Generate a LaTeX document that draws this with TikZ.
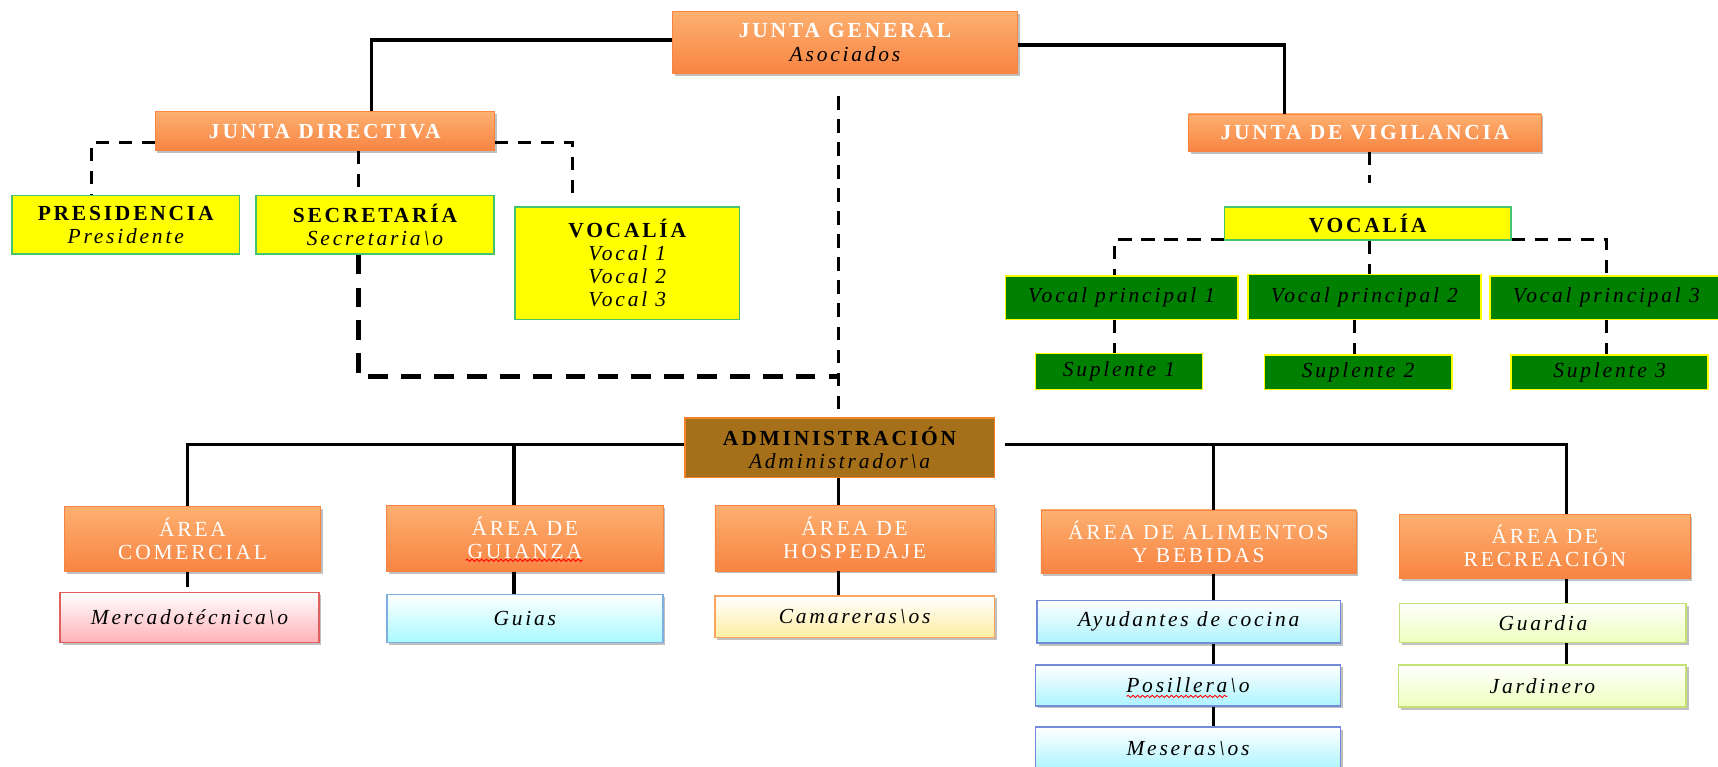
\documentclass[tikz,border=0pt]{standalone}
\usepackage{fontspec}
\setmainfont{Liberation Serif}
\newfontfamily\spaced[LetterSpace=13]{Liberation Serif}
\usetikzlibrary{shadows,calc,decorations.pathmorphing}
\definecolor{orT}{RGB}{253,176,112}
\definecolor{orB}{RGB}{248,132,66}
\definecolor{ylF}{RGB}{255,255,0}
\definecolor{ylD}{RGB}{70,195,110}
\definecolor{grF}{RGB}{0,128,0}
\definecolor{admF}{RGB}{166,112,26}
\definecolor{admD}{RGB}{245,130,40}
\definecolor{pinkB}{RGB}{255,178,184}
\definecolor{pinkD}{RGB}{225,95,95}
\definecolor{cyanB}{RGB}{168,250,255}
\definecolor{cyanD}{RGB}{125,175,225}
\definecolor{creamB}{RGB}{255,238,160}
\definecolor{creamD}{RGB}{250,165,95}
\definecolor{ayuB}{RGB}{172,244,255}
\definecolor{ayuD}{RGB}{115,140,215}
\definecolor{limeB}{RGB}{238,255,188}
\definecolor{limeD}{RGB}{195,225,120}
\begin{document}
\begin{tikzpicture}[x=0.5pt,y=-0.5pt,
  every node/.style={rectangle, inner sep=0pt, align=center,
    font=\fontsize{9.8}{10.5}\selectfont\spaced},
  shad/.style={drop shadow={shadow xshift=1.1pt, shadow yshift=-1.1pt, opacity=0.35, fill=black!70}},
  orbox/.style={shad, top color=orT, bottom color=orB, draw=orB, line width=0.3pt, text=white},
  hdrbox/.style={orbox, font=\fontsize{9.8}{10.8}\selectfont\spaced\bfseries},
  ylbox/.style={fill=ylF, draw=ylD, line width=0.7pt, text=black},
  grbox/.style={fill=grF, draw=ylF, line width=0.7pt, text=black, font=\fontsize{9.8}{10.5}\selectfont\spaced\itshape},
  admbox/.style={fill=admF, draw=admD, line width=0.7pt, text=black},
  subbox/.style={shad, line width=0.7pt, top color=white, font=\fontsize{9.8}{10.5}\selectfont\spaced\itshape, text=black},
  subpink/.style={subbox, middle color=white!80!pinkB, bottom color=pinkB, draw=pinkD},
  subcyan/.style={subbox, middle color=white!80!cyanB, bottom color=cyanB, draw=cyanD},
  subcream/.style={subbox, middle color=white!80!creamB, bottom color=creamB, draw=creamD},
  subayu/.style={subbox, middle color=white!80!ayuB, bottom color=ayuB, draw=ayuD},
  sublime/.style={subbox, middle color=white!80!limeB, bottom color=limeB, draw=limeD},
  conn/.style={line width=1.5pt, black},
  dconn/.style={line width=1.4pt, black, dash pattern=on 6pt off 4.5pt},
  dconnthick/.style={line width=2.2pt, black, dash pattern=on 9pt off 6pt},
  spell/.style={red, line width=0.4pt, decorate, decoration={snake, segment length=2.2pt, amplitude=0.5pt}}
]
\useasboundingbox (0,0) rectangle (1568,700);
\clip (0,0) rectangle (1568,700);
\fill[white] (0,0) rectangle (1568,700);

% ---------- top level ----------
\node[hdrbox, minimum width=157.25pt, minimum height=28.2pt] (jg) at (771.25,38.8)
  {JUNTA GENERAL\\{\mdseries\itshape\color{black}Asociados}};
\node[hdrbox, minimum width=155pt, minimum height=17.75pt] (jd) at (296.5,119.75) {JUNTA DIRECTIVA};
\node[hdrbox, minimum width=160.75pt, minimum height=17.2pt] (jv) at (1245.75,121.2) {JUNTA DE VIGILANCIA};

% ---------- junta directiva ----------
\node[ylbox, minimum width=103.75pt, minimum height=26.6pt] (pres) at (114.75,205.2)
  {\bfseries PRESIDENCIA\\\itshape Presidente};
\node[ylbox, minimum width=108.75pt, minimum height=26.6pt] (sec) at (342.25,205.2)
  {\bfseries SECRETARÍA\\\itshape Secretaria\textbackslash o};
\node[ylbox, minimum width=102.5pt, minimum height=51.25pt] (vocl) at (572.5,240.25)
  {\bfseries VOCALÍA\\\itshape Vocal 1\\\itshape Vocal 2\\\itshape Vocal 3};

% ---------- junta de vigilancia ----------
\node[ylbox, minimum width=130.75pt, minimum height=15pt] (vocr) at (1248.25,204) {\bfseries VOCALÍA};
\node[grbox, minimum width=106.25pt, minimum height=19.75pt] (vp1) at (1023.75,271.75) {Vocal principal 1};
\node[grbox, minimum width=106.25pt, minimum height=20.55pt] (vp2) at (1245.25,270.95) {Vocal principal 2};
\node[grbox, minimum width=106.25pt, minimum height=19.75pt] (vp3) at (1466,271.75) {Vocal principal 3};
\node[grbox, minimum width=76.25pt, minimum height=16.4pt] (s1) at (1021.25,338.9) {Suplente 1};
\node[grbox, minimum width=85.5pt, minimum height=15.65pt] (s2) at (1239.5,339.65) {Suplente 2};
\node[grbox, minimum width=90pt, minimum height=15.65pt] (s3) at (1469,339.65) {Suplente 3};

% ---------- administracion ----------
\node[admbox, minimum width=141.25pt, minimum height=26.95pt] (adm) at (766.25,408.65)
  {\bfseries ADMINISTRACIÓN\\\itshape Administrador\textbackslash a};

\node[orbox, minimum width=116.75pt, minimum height=29.65pt] (ac) at (175.75,492.05) {ÁREA\\COMERCIAL};
\node[orbox, minimum width=126pt, minimum height=30.35pt] (ag) at (479,491.35) {ÁREA DE\\GUIANZA};
\node[orbox, minimum width=127.5pt, minimum height=30pt] (ah) at (780,491) {ÁREA DE\\HOSPEDAJE};
\node[orbox, minimum width=143.75pt, minimum height=28.9pt] (aab) at (1093.75,494.3) {ÁREA DE ALIMENTOS\\Y BEBIDAS};
\node[orbox, minimum width=132.5pt, minimum height=29.2pt] (arec) at (1410,498.6) {ÁREA DE\\RECREACIÓN};

\node[subpink, minimum width=118pt, minimum height=22.7pt] (merc) at (173,563.5) {Mercadotécnica\textbackslash o};
\node[subcyan, minimum width=126pt, minimum height=21.9pt] (guias) at (479,564.3) {Guias};
\node[subcream, minimum width=127.5pt, minimum height=19pt] (cam) at (780,563) {Camareras\textbackslash os};
\node[subayu, minimum width=138.5pt, minimum height=19.5pt] (ayu) at (1085,567.5) {Ayudantes de cocina};
\node[subayu, minimum width=139.25pt, minimum height=18.7pt] (pos) at (1084.25,625.6) {Posillera\textbackslash o};
\node[subayu, minimum width=139.25pt, minimum height=19.65pt] (mes) at (1084.25,683.35) {Meseras\textbackslash os};
\node[sublime, minimum width=130.75pt, minimum height=17.8pt] (guard) at (1408.25,568.4) {Guardia};
\node[sublime, minimum width=131.25pt, minimum height=19.3pt] (jard) at (1407.75,626.2) {Jardinero};

% spell-check underlines
\draw[spell] ($(ag.center)+(-54,20)$) -- ($(ag.center)+(53,20)$);
\draw[spell] ($(pos.center)+(-56,10)$) -- ($(pos.center)+(36,10)$);

% ---------- helper coordinates ----------
\coordinate (yJG1) at (0,36.5);
\coordinate (yJG2) at (0,41);
\coordinate (xJD) at (339,0);
\coordinate (xJV) at (1172.5,0);
\coordinate (yJDd) at (0,130);
\coordinate (xPres) at (83.5,0);
\coordinate (xSec) at (327.5,0);
\coordinate (vocLend) at (522.5,178);
\coordinate (xMain) at (765,0);
\coordinate (mainTop) at (765,88);
\coordinate (ySecH) at (0,343.8);
\coordinate (xV) at (1250,0);
\coordinate (vocRend) at (1250,166.7);
\coordinate (yVR) at (0,218.4);
\coordinate (xVP1) at (1017.5,0);
\coordinate (xVP2) at (1236,0);
\coordinate (xVP3) at (1466,0);
\coordinate (yAdm) at (0,406);
\coordinate (admRight) at (917.5,406);
\coordinate (xAC) at (171,0);
\coordinate (xAG) at (469,0);
\coordinate (xAAB) at (1107.5,0);
\coordinate (xAREC) at (1430,0);

% ---------- connectors ----------
\draw[conn] (jg.west |- yJG1) -| (jd.north -| xJD);
\draw[conn] (jg.east |- yJG2) -| (jv.north -| xJV);

\draw[dconn] (jd.west |- yJDd) -| (pres.north -| xPres);
\draw[dconn] (jd.south -| xSec) -- (sec.north -| xSec);
\draw[dconn] (jd.east |- yJDd) -| (vocLend);
\draw[dconnthick] (sec.south -| xSec) |- (ySecH -| xMain);
\draw[dconn] (mainTop) -- (adm.north -| xMain);

\draw[dconn] (jv.south -| xV) -- (vocRend);
\draw[dconn] (vocr.west |- yVR) -| (vp1.north -| xVP1);
\draw[dconn] (vocr.south -| xV) -- (vp2.north -| xV);
\draw[dconn] (vocr.east |- yVR) -| (vp3.north -| xVP3);
\draw[dconn] (vp1.south -| xVP1) -- (s1.north -| xVP1);
\draw[dconn] (vp2.south -| xVP2) -- (s2.north -| xVP2);
\draw[dconn] (vp3.south -| xVP3) -- (s3.north -| xVP3);

\draw[conn] (adm.west |- yAdm) -| (ac.north -| xAC);
\draw[conn] (ag.north -| xAG) -- (xAG |- yAdm);
\draw[conn] (adm.south -| xMain) -- (ah.north -| xMain);
\draw[conn] (admRight) -| (arec.north -| xAREC);
\draw[conn] (aab.north -| xAAB) -- (xAAB |- yAdm);

\draw[dconn, dash pattern=on 7pt off 6pt] (ac.south -| xAC) -- (merc.north -| xAC);
\draw[conn] (ag.south -| xAG) -- (guias.north -| xAG);
\draw[conn] (ah.south -| xMain) -- (cam.north -| xMain);
\draw[conn] (aab.south -| xAAB) -- (ayu.north -| xAAB);
\draw[conn] (ayu.south -| xAAB) -- (pos.north -| xAAB);
\draw[conn] (pos.south -| xAAB) -- (mes.north -| xAAB);
\draw[conn] (arec.south -| xAREC) -- (guard.north -| xAREC);
\draw[conn] (guard.south -| xAREC) -- (jard.north -| xAREC);
\end{tikzpicture}
\end{document}
